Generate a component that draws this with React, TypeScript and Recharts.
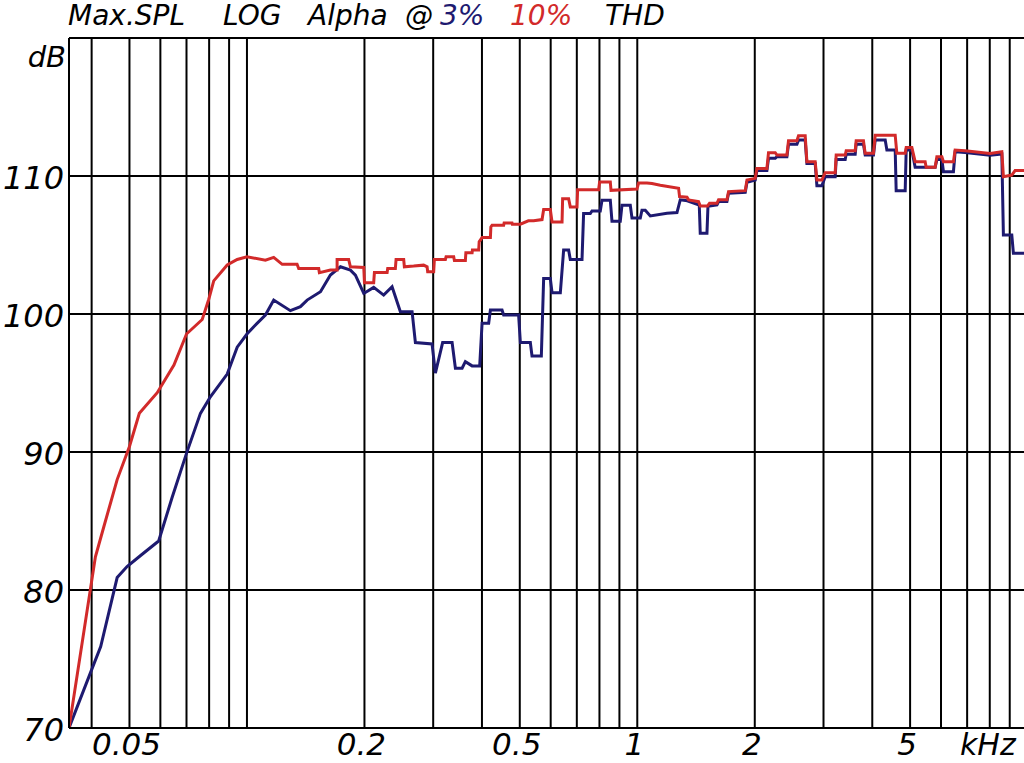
import React from 'react';
import { LineChart, Line, XAxis, YAxis, ReferenceLine } from 'recharts';

// Frequencies in kHz, levels in dB
const redFreq = [
  0.035, 0.0409, 0.043, 0.0465, 0.05, 0.053, 0.0589, 0.065, 0.07, 0.0768, 0.0798, 0.0822, 0.089, 0.0944,
  0.1, 0.1115, 0.1171, 0.1231, 0.1344, 0.1357, 0.1527, 0.1533, 0.1636, 0.1702, 0.1702, 0.1822, 0.1841,
  0.1992, 0.2, 0.2112, 0.2121, 0.2286, 0.2294, 0.24, 0.241, 0.2521, 0.2531, 0.2674, 0.2836, 0.2894,
  0.2904, 0.3009, 0.3021, 0.3224, 0.3237, 0.3386, 0.34, 0.3627, 0.3638, 0.3774, 0.3781, 0.3924, 0.3935,
  0.4003, 0.4204, 0.4216, 0.4246, 0.4546, 0.4559, 0.4776, 0.4785, 0.5017, 0.5259, 0.5426, 0.5702,
  0.5756, 0.5987, 0.6048, 0.6416, 0.6438, 0.667, 0.6736, 0.7008, 0.7033, 0.796, 0.8008, 0.8529, 0.8564,
  0.9982, 1.0076, 1.0588, 1.0904, 1.1454, 1.276, 1.2834, 1.3408, 1.3535, 1.4355, 1.4498, 1.5136, 1.5315,
  1.6, 1.6152, 1.6971, 1.7132, 1.8909, 1.9098, 2.0055, 2.0255, 2.1484, 2.1688, 2.2565, 2.279, 2.4174,
  2.4403, 2.5645, 2.5888, 2.6928, 2.7202, 2.8563, 2.8853, 2.9717, 3.0298, 3.2137, 3.233, 3.4096, 3.4293,
  3.6164, 3.6373, 3.7974, 3.8361, 4.0285, 4.0695, 4.5791, 4.6238, 4.8571, 4.8861, 5.0522, 5.151, 5.4639,
  5.4966, 5.7962, 5.8553, 6.0305, 6.0876, 6.4565, 6.5208, 6.9167, 8.0168, 8.5901, 8.6696, 9.1096, 9.2897,
  9.79,
];
const redDb = [
  70, 82.4, 84.6, 88.0, 90.4, 92.8, 94.3, 96.3, 98.55, 99.6, 101.05, 102.4, 103.55, 103.95,
  104.15, 103.9, 104.1, 103.6, 103.6, 103.3, 103.3, 103.0, 103.18, 103.18, 103.95, 103.95, 103.42,
  103.37, 102.27, 102.27, 103.01, 103.01, 103.3, 103.3, 103.95, 103.95, 103.42, 103.47, 103.54, 103.42,
  103.06, 103.06, 103.95, 103.95, 104.14, 104.14, 103.88, 103.88, 104.43, 104.43, 104.63, 104.63, 105.23,
  105.54, 105.54, 106.31, 106.43, 106.43, 106.6, 106.6, 106.51, 106.51, 106.75, 106.75, 106.84,
  107.57, 107.57, 106.67, 106.67, 108.36, 108.36, 107.76, 107.76, 109.01, 109.01, 109.57, 109.57, 108.96,
  109.06, 109.49, 109.49, 109.45, 109.33, 109.11, 108.51, 108.46, 108.27, 108.14, 107.83, 107.83, 108.02,
  108.02, 108.27, 108.27, 108.87, 108.94, 109.71, 109.83, 110.55, 110.55, 111.69, 111.69, 111.52, 111.52,
  112.55, 112.55, 112.92, 112.92, 111.04, 111.04, 109.71, 109.71, 110.24, 110.24, 111.52, 111.52, 111.83,
  111.83, 112.55, 112.55, 111.64, 111.64, 112.96, 112.96, 111.64, 111.64, 112.07, 112.07, 111.04, 111.04,
  110.63, 110.63, 111.4, 111.4, 111.04, 111.04, 111.88, 111.83, 111.64, 111.76, 109.95, 110.07, 110.39,
  110.39,
];

const blueFreq = [
  0.035, 0.0401, 0.0422, 0.0465, 0.0493, 0.0534, 0.0594, 0.0643, 0.07, 0.076, 0.0806, 0.089, 0.0944,
  0.1, 0.1041, 0.1115, 0.1171, 0.1292, 0.1371, 0.1426, 0.1543, 0.1636, 0.1736, 0.1841, 0.1896, 0.1992,
  0.2112, 0.224, 0.2354, 0.2472, 0.2649, 0.2701, 0.298, 0.3039, 0.3172, 0.3354, 0.342, 0.3558, 0.3627,
  0.3774, 0.3947, 0.4003, 0.4162, 0.4204, 0.4503, 0.4546, 0.4966, 0.5017, 0.5321, 0.5374, 0.5678, 0.5756,
  0.5987, 0.6048, 0.6351, 0.6476, 0.667, 0.6736, 0.7218, 0.7286, 0.7579, 0.7656, 0.8039, 0.8121, 0.8529,
  0.8614, 0.9046, 0.9136, 0.9596, 0.9692, 1.0179, 1.028, 1.0483, 1.0797, 1.1916, 1.2639, 1.2886, 1.343,
  1.4414, 1.4498, 1.5084, 1.5174, 1.6, 1.6152, 1.6971, 1.7132, 1.8909, 1.9098, 2.0055, 2.0255, 2.1484,
  2.1688, 2.2565, 2.279, 2.4174, 2.4403, 2.5645, 2.5888, 2.6928, 2.7202, 2.8563, 2.8853, 2.9717, 3.0298,
  3.2137, 3.233, 3.4096, 3.4293, 3.6164, 3.6373, 3.7974, 3.8361, 4.0285, 4.0695, 4.3168, 4.3598, 4.5791,
  4.6056, 4.8571, 4.8861, 5.0522, 5.151, 5.7962, 5.8553, 6.0305, 6.0876, 6.4565, 6.5208, 6.9167, 8.0168,
  8.5901, 8.6696, 9.1096, 9.196, 9.79,
];
const blueDb = [
  70, 74.3, 75.9, 80.9, 81.7, 82.5, 83.55, 86.7, 89.9, 92.8, 94.0, 95.65, 97.6,
  98.55, 99.08, 99.93, 101.01, 100.24, 100.53, 101.01, 101.61, 102.82, 103.42, 103.18, 102.82, 101.49,
  101.93, 101.37, 101.98, 100.17, 100.17, 97.93, 97.83, 95.71, 97.93, 97.93, 96.07, 96.07, 96.55,
  96.24, 96.24, 99.33, 99.33, 100.29, 100.29, 99.93, 99.93, 97.93, 97.93, 96.96, 96.96, 102.58,
  102.58, 101.54, 101.54, 104.63, 104.63, 103.95, 103.95, 107.28, 107.28, 107.47, 107.47, 108.24, 108.24,
  106.72, 106.72, 107.88, 107.88, 106.96, 106.96, 107.52, 107.52, 107.11, 107.3, 107.35, 108.27, 108.2,
  107.9, 105.86, 105.86, 107.8, 107.9, 108.15, 108.15, 108.75, 108.82, 109.55, 109.7, 110.4, 110.4,
  111.28, 111.28, 111.4, 111.4, 112.3, 112.3, 112.6, 112.6, 110.9, 110.9, 109.3, 109.3, 109.95,
  109.95, 111.2, 111.2, 111.57, 111.57, 112.3, 112.3, 111.52, 111.52, 112.6, 112.6, 111.88, 111.88,
  108.94, 108.94, 111.88, 111.88, 110.63, 110.63, 111.2, 111.2, 110.31, 110.31, 111.75, 111.7, 111.5,
  111.6, 105.73, 105.73, 104.41, 104.41,
];

const gridFreqs = [
  0.04, 0.05, 0.06, 0.07, 0.08, 0.09, 0.1, 0.2, 0.3, 0.4, 0.5, 0.6, 0.7, 0.8, 0.9,
  1, 2, 3, 4, 5, 6, 7, 8, 9,
];
const gridDb = [80, 90, 100, 110, 120];
const xTicks = [0.05, 0.2, 0.5, 1, 2, 5];
const yTicks = [70, 80, 90, 100, 110];
const xDomain = [0.035, 9.79];
const yDomain = [70, 120];

const titleParts = [
  { text: 'Max.SPL', x: 68, color: '#000' },
  { text: 'LOG', x: 223, color: '#000' },
  { text: 'Alpha', x: 308, color: '#000' },
  { text: '@', x: 405, color: '#000' },
  { text: '3%', x: 440, color: '#1e1a70' },
  { text: '10%', x: 510, color: '#d22a2a' },
  { text: 'THD', x: 605, color: '#000' },
];

const redData = redFreq.map((f, i) => ({ f, db: redDb[i] }));
const blueData = blueFreq.map((f, i) => ({ f, db: blueDb[i] }));

const FONT = '"DejaVu Sans", sans-serif';
const RED = '#d22a2a';
const BLUE = '#1e1a70';

const XTick = (props: any) => {
  const { x, payload } = props;
  return (
    <text x={x - 3} y={755} textAnchor="middle" fontFamily={FONT} fontStyle="italic" fontWeight={200} fontSize={31} fill="#000">
      {String(payload.value)}
    </text>
  );
};

const YTick = (props: any) => {
  const { y, payload } = props;
  return (
    <text x={64} y={y + 13} textAnchor="end" fontFamily={FONT} fontStyle="italic" fontWeight={200} fontSize={32} fill="#000">
      {String(payload.value)}
    </text>
  );
};

export default function App() {
  return (
    <div style={{ position: 'absolute', left: 0, top: 0, width: 1024, height: 763, background: '#fff', overflow: 'hidden' }}>
      <LineChart width={1024} height={763} margin={{ top: 38, right: 0, bottom: 0, left: 0 }}>
        <XAxis
          dataKey="f"
          type="number"
          scale="log"
          domain={xDomain}
          allowDataOverflow
          ticks={xTicks}
          interval={0}
          tick={<XTick />}
          tickLine={false}
          height={35}
          axisLine={{ stroke: '#000', strokeWidth: 2 }}
        />
        <YAxis
          dataKey="db"
          type="number"
          domain={yDomain}
          allowDataOverflow
          ticks={yTicks}
          interval={0}
          tick={<YTick />}
          tickLine={false}
          width={69}
          axisLine={{ stroke: '#000', strokeWidth: 2 }}
        />
        {gridFreqs.map((f) => (
          <ReferenceLine key={'gx' + f} x={f} stroke="#000" strokeWidth={2} />
        ))}
        {gridDb.map((d) => (
          <ReferenceLine key={'gy' + d} y={d} stroke="#000" strokeWidth={2} />
        ))}
        <Line
          data={blueData}
          dataKey="db"
          type="linear"
          stroke={BLUE}
          strokeWidth={3}
          dot={false}
          activeDot={false}
          isAnimationActive={false}
        />
        <Line
          data={redData}
          dataKey="db"
          type="linear"
          stroke={RED}
          strokeWidth={3}
          dot={false}
          activeDot={false}
          isAnimationActive={false}
        />
      </LineChart>
      <svg width={1024} height={763} style={{ position: 'absolute', left: 0, top: 0, pointerEvents: 'none' }}>
        <text y={25} fontFamily={FONT} fontStyle="italic" fontWeight={200} fontSize={28}>
          {titleParts.map((p) => (
            <tspan key={p.text} x={p.x} fill={p.color}>
              {p.text}
            </tspan>
          ))}
        </text>
        <text x={66} y={67} textAnchor="end" fontFamily={FONT} fontStyle="italic" fontWeight={200} fontSize={29} fill="#000">
          dB
        </text>
        <text x={960} y={755} fontFamily={FONT} fontStyle="italic" fontWeight={200} fontSize={30} fill="#000">
          kHz
        </text>
      </svg>
    </div>
  );
}
